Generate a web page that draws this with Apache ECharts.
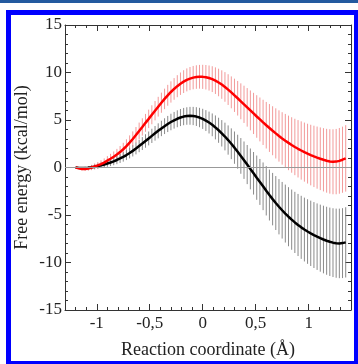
<!DOCTYPE html>
<html><head><meta charset="utf-8">
<script src="https://cdn.jsdelivr.net/npm/echarts@6/dist/echarts.min.js"></script>
<style>html,body{margin:0;padding:0;background:#fff}#c{width:358px;height:364px}</style>
</head><body><div id="c"></div>
<script>
const xs = [-1.20,-1.17,-1.14,-1.11,-1.08,-1.05,-1.02,-0.99,-0.96,-0.93,-0.90,-0.87,-0.84,-0.81,-0.78,-0.75,-0.72,-0.69,-0.66,-0.63,-0.60,-0.57,-0.54,-0.51,-0.48,-0.45,-0.42,-0.39,-0.36,-0.33,-0.30,-0.27,-0.24,-0.21,-0.18,-0.15,-0.12,-0.09,-0.06,-0.03,0.00,0.03,0.06,0.09,0.12,0.15,0.18,0.21,0.24,0.27,0.30,0.33,0.36,0.39,0.42,0.45,0.48,0.51,0.54,0.57,0.60,0.63,0.66,0.69,0.72,0.75,0.78,0.81,0.84,0.87,0.90,0.93,0.96,0.99,1.02,1.05,1.08,1.11,1.14,1.17,1.20,1.23,1.26,1.29,1.32,1.35];
const redMean = [0.00,-0.08,-0.15,-0.15,-0.10,0.00,0.10,0.22,0.36,0.52,0.72,0.92,1.13,1.36,1.62,1.92,2.25,2.62,3.00,3.42,3.85,4.27,4.70,5.12,5.55,5.98,6.40,6.82,7.22,7.60,7.95,8.27,8.56,8.82,9.04,9.22,9.36,9.46,9.52,9.55,9.54,9.50,9.42,9.30,9.14,8.95,8.73,8.48,8.20,7.91,7.60,7.29,6.97,6.65,6.33,6.01,5.69,5.37,5.06,4.75,4.45,4.16,3.87,3.59,3.32,3.06,2.82,2.59,2.37,2.16,1.97,1.79,1.62,1.46,1.31,1.17,1.04,0.92,0.81,0.71,0.64,0.60,0.62,0.70,0.82,0.96];
const redErr = [0.05,0.10,0.15,0.20,0.24,0.28,0.32,0.36,0.40,0.44,0.48,0.52,0.56,0.60,0.64,0.68,0.72,0.76,0.80,0.84,0.88,0.91,0.94,0.97,1.00,1.02,1.04,1.06,1.08,1.10,1.12,1.14,1.16,1.18,1.20,1.21,1.22,1.23,1.24,1.25,1.27,1.29,1.32,1.36,1.40,1.45,1.50,1.56,1.62,1.68,1.75,1.82,1.89,1.96,2.03,2.10,2.17,2.24,2.31,2.38,2.45,2.52,2.58,2.64,2.70,2.76,2.82,2.87,2.92,2.97,3.02,3.07,3.11,3.15,3.19,3.23,3.27,3.30,3.33,3.36,3.39,3.42,3.44,3.46,3.48,3.50];
const blackMean = [0.00,-0.04,-0.06,-0.06,-0.03,0.02,0.08,0.15,0.23,0.32,0.42,0.53,0.65,0.79,0.95,1.12,1.31,1.52,1.75,2.00,2.26,2.52,2.79,3.06,3.33,3.60,3.86,4.11,4.35,4.58,4.79,4.97,5.13,5.26,5.36,5.42,5.44,5.42,5.36,5.26,5.12,4.94,4.73,4.49,4.22,3.92,3.60,3.26,2.89,2.50,2.09,1.66,1.22,0.77,0.31,-0.15,-0.61,-1.07,-1.52,-1.98,-2.45,-2.90,-3.33,-3.74,-4.13,-4.50,-4.85,-5.18,-5.49,-5.78,-6.05,-6.30,-6.53,-6.74,-6.93,-7.11,-7.28,-7.44,-7.58,-7.71,-7.82,-7.91,-7.97,-7.99,-7.96,-7.88];
const blackErr = [0.05,0.08,0.11,0.14,0.17,0.20,0.23,0.26,0.29,0.32,0.35,0.38,0.41,0.44,0.47,0.50,0.53,0.56,0.59,0.62,0.65,0.68,0.71,0.73,0.75,0.77,0.79,0.81,0.83,0.85,0.87,0.88,0.89,0.90,0.91,0.92,0.94,0.96,0.99,1.02,1.06,1.10,1.15,1.20,1.26,1.32,1.39,1.46,1.54,1.62,1.70,1.79,1.88,1.97,2.06,2.15,2.24,2.33,2.42,2.51,2.60,2.68,2.76,2.84,2.91,2.98,3.05,3.11,3.17,3.22,3.27,3.32,3.36,3.40,3.44,3.47,3.50,3.53,3.56,3.58,3.60,3.62,3.64,3.66,3.68,3.70];
const xMajorTicks = [-1, -0.5, 0, 0.5, 1];
const xTickLabels = ['-1', '-0,5', '0', '0,5', '1'];
const xMinorTicks = [-1.2,-1.1,-0.9,-0.8,-0.7,-0.6,-0.4,-0.3,-0.2,-0.1,0.1,0.2,0.3,0.4,0.6,0.7,0.8,0.9,1.1,1.2,1.3];
const yTickLabels = ['-15','-10','-5','0','5','10','15'];

const FONT = "'Liberation Serif','Times New Roman',serif";
const AX = '#333';
const XMIN = -1.3, XMAX = 1.4;

const chart = echarts.init(document.getElementById('c'), null, {renderer: 'canvas'});

function pts(m, e) { return xs.map((x, i) => [x, m[i], e[i]]); }
function errSeries(m, e, color) {
  return {
    type: 'custom', xAxisIndex: 0, yAxisIndex: 0, silent: true, z: 2,
    data: pts(m, e),
    encode: {x: 0, y: [1]},
    renderItem: function (params, api) {
      const x = api.value(0), y = api.value(1), er = api.value(2);
      const p1 = api.coord([x, y - er]);
      const p2 = api.coord([x, y + er]);
      return {type: 'line', shape: {x1: p1[0], y1: p1[1], x2: p2[0], y2: p2[1]},
        style: {stroke: color, lineWidth: 1}};
    }
  };
}
function xAxisDef(pos, ticks, len, labels, lineShow) {
  return {
    type: 'value', min: XMIN, max: XMAX, position: pos, gridIndex: 0,
    axisLine: {show: lineShow, onZero: false, lineStyle: {color: AX, width: 1}},
    axisTick: {show: true, inside: true, length: len, customValues: ticks, lineStyle: {color: AX, width: 1}},
    axisLabel: labels ? {show: true, customValues: xMajorTicks, margin: 5, fontFamily: FONT, fontSize: 17, color: '#222',
      formatter: v => { const i = xMajorTicks.findIndex(t => Math.abs(t - v) < 1e-6); return i >= 0 ? xTickLabels[i] : ''; }} : {show: false},
    splitLine: {show: false}
  };
}
function yAxisDef(pos, labels) {
  return {
    type: 'value', min: -15, max: 15, interval: 5, position: pos, gridIndex: 0,
    axisLine: {show: true, onZero: false, lineStyle: {color: AX, width: 1}},
    axisTick: {show: true, inside: true, length: 6, lineStyle: {color: AX, width: 1}},
    minorTick: {show: true, splitNumber: 5, length: 3, lineStyle: {color: AX, width: 1}},
    axisLabel: labels ? {show: true, margin: 3, fontFamily: FONT, fontSize: 17, color: '#222',
      formatter: v => yTickLabels[Math.round((v + 15) / 5)]} : {show: false},
    splitLine: {show: false},
    name: labels ? 'Free energy (kcal/mol)' : '',
    nameLocation: 'middle', nameGap: 34, nameRotate: 90, nameMoveOverlap: false,
    nameTextStyle: {fontFamily: FONT, fontSize: 18, color: '#222'}
  };
}

const xMain = xAxisDef('bottom', xMajorTicks, 6, true, true);
xMain.name = 'Reaction coordinate (Å)';
xMain.nameLocation = 'middle';
xMain.nameGap = 31;
xMain.nameMoveOverlap = false;
xMain.nameTextStyle = {fontFamily: FONT, fontSize: 18, color: '#222'};

chart.setOption({
  animation: false,
  backgroundColor: '#fff',
  grid: {left: 65, right: 7, top: 25, bottom: 49, containLabel: false},
  xAxis: [
    xMain,
    xAxisDef('bottom', xMinorTicks, 3, false, false),
    xAxisDef('top', xMajorTicks, 6, false, true),
    xAxisDef('top', xMinorTicks, 3, false, false)
  ],
  yAxis: [yAxisDef('left', true), yAxisDef('right', false)],
  graphic: [
    {type: 'rect', shape: {x: 0, y: 0, width: 358, height: 3}, style: {fill: '#235a9f'}, z: 100},
    {type: 'rect', shape: {x: 8.5, y: 12.5, width: 348, height: 351}, style: {fill: 'none', stroke: '#0000ff', lineWidth: 5}, z: 100}
  ],
  series: [
    errSeries(redMean, redErr, '#f29a9a'),
    errSeries(blackMean, blackErr, '#8a8a8a'),
    {
      type: 'line', xAxisIndex: 0, yAxisIndex: 0, showSymbol: false, symbol: 'none', z: 3,
      data: xs.map((x, i) => [x, blackMean[i]]),
      lineStyle: {color: '#000', width: 2.5},
      markLine: {silent: true, symbol: 'none', label: {show: false},
        lineStyle: {color: '#999', width: 1, type: 'solid'}, data: [{yAxis: 0}]}
    },
    {
      type: 'line', xAxisIndex: 0, yAxisIndex: 0, showSymbol: false, symbol: 'none', z: 4,
      data: xs.map((x, i) => [x, redMean[i]]),
      lineStyle: {color: '#ff0000', width: 2.5}
    }
  ]
});
</script></body></html>
